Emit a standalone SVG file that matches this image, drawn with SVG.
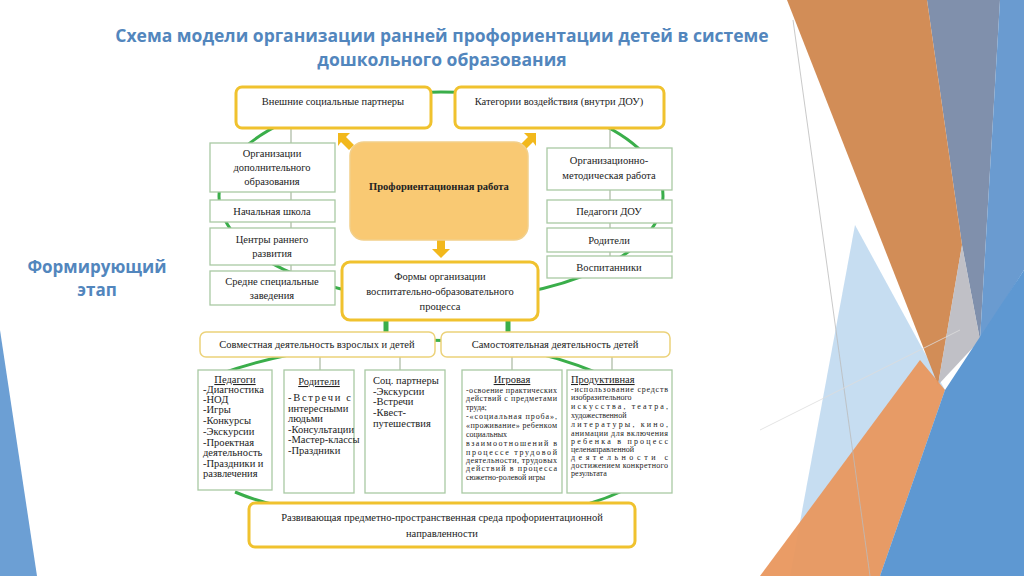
<svg xmlns="http://www.w3.org/2000/svg" width="1024" height="576" viewBox="0 0 1024 576">
<style>
.t{font-family:"Liberation Serif","DejaVu Serif",serif;fill:#222}
.s{font-size:10.5px}
.xs{font-size:8px}
.yb{fill:#fff;stroke:#f0c22e;stroke-width:3}
.yt{fill:#fff;stroke:#ecd27a;stroke-width:1.5}
.gb{fill:#fff;stroke:#a9c9a4;stroke-width:1.3}
.gl{fill:none;stroke:#3aae4a;stroke-width:3}
.vl{stroke:#a8b8a0;stroke-width:1.2}
.hd{font-family:"Open Sans",sans-serif;font-weight:bold;fill:#5286bd}
</style>
<rect width="1024" height="576" fill="#fff"/>
<g id="decor">
<polygon points="0,330 0,576 37,576" fill="#6c9fd4"/>
<polygon points="927,0 1000,0 980,340 962,245" fill="#8090ac"/>
<polygon points="1000,0 1024,0 1024,270 980,340" fill="#6a9bd0"/>
<polygon points="855,225 945,390 880,576 790,576" fill="#b8d4ee" opacity="0.8"/>
<polygon points="787,0 927,0 962,245 938,385" fill="#d0874e" opacity="0.95"/>
<polygon points="938,385 962,245 980,340" fill="#b0b0b8" opacity="0.8"/>
<polygon points="760,576 880,576 945,390 920,360" fill="#e9975e" opacity="0.95"/>
<polygon points="880,576 1024,576 1024,270 945,390" fill="#5e98d2"/>
<line x1="793" y1="20" x2="870" y2="576" stroke="#bbb" stroke-width="0.8"/>
<line x1="760" y1="430" x2="960" y2="330" stroke="#ddd" stroke-width="0.8"/>
</g>
<text class="hd" x="442" y="42" font-size="17.5" text-anchor="middle">Схема модели организации ранней профориентации детей в системе</text>
<text class="hd" x="442" y="66" font-size="17.5" text-anchor="middle">дошкольного образования</text>
<text class="hd" x="97" y="273" font-size="17" text-anchor="middle">Формирующий</text>
<text class="hd" x="97" y="296" font-size="17" text-anchor="middle">этап</text>
<g id="connectors">
<ellipse cx="441" cy="196" rx="222" ry="104" class="gl"/>
<line x1="291" y1="128" x2="291" y2="271" class="vl"/>
<line x1="610" y1="128" x2="610" y2="256" class="vl"/>
<line x1="386" y1="320" x2="386" y2="333" stroke="#3aae4a" stroke-width="5"/>
<line x1="508" y1="320" x2="508" y2="333" stroke="#3aae4a" stroke-width="5"/>
<path d="M220 374 Q300 345 420 340 Q520 340 600 374" class="gl"/>
<path d="M235 492 Q300 520 440 520 Q560 520 620 492" class="gl"/>
<line x1="320" y1="357" x2="320" y2="370" class="vl"/>
<line x1="400" y1="357" x2="400" y2="370" class="vl"/>
<line x1="512" y1="357" x2="512" y2="370" class="vl"/>
<line x1="612" y1="357" x2="612" y2="370" class="vl"/>
<g fill="#f2b81c">
<polygon points="338,133 350,133 346,137 354,145 349,150 341,142 338,146"/>
<polygon points="536,133 524,133 528,137 520,145 525,150 533,142 536,146"/>
<polygon points="437,240 445,240 445,249 450,249 441,258 432,249 437,249"/>
</g>
</g>
<g font-family="Liberation Serif, DejaVu Serif, serif">
<g id="n-vnesh"><rect x="236" y="87" width="195" height="41" rx="6" class="yb"/><text class="t s" x="333" y="105" text-anchor="middle">Внешние социальные партнеры</text></g>
<g id="n-kat"><rect x="455" y="87" width="209" height="41" rx="6" class="yb"/><text class="t s" x="559" y="105" text-anchor="middle">Категории воздействия (внутри ДОУ)</text></g>
<g id="n-prof"><rect x="350" y="142" width="178" height="98" rx="14" fill="#f9c973" stroke="#f2cf8a" stroke-width="1.5"/><text class="t s" x="439" y="190" text-anchor="middle" font-weight="bold">Профориентационная работа</text></g>
<g id="n-odo"><rect x="210" y="143" width="125" height="49" class="gb"/><text class="t s" text-anchor="middle"><tspan x="272" y="157">Организации</tspan><tspan x="272" y="171">дополнительного</tspan><tspan x="272" y="185">образования</tspan></text></g>
<g id="n-nsh"><rect x="210" y="200" width="125" height="22" class="gb"/><text class="t s" x="272" y="215" text-anchor="middle">Начальная школа</text></g>
<g id="n-crr"><rect x="210" y="228" width="125" height="37" class="gb"/><text class="t s" text-anchor="middle"><tspan x="272" y="243">Центры раннего</tspan><tspan x="272" y="257">развития</tspan></text></g>
<g id="n-sse"><rect x="210" y="271" width="125" height="34" class="gb"/><text class="t s" text-anchor="middle"><tspan x="272" y="285">Средне специальные</tspan><tspan x="272" y="299">заведения</tspan></text></g>
<g id="n-omr"><rect x="547" y="148" width="125" height="42" class="gb"/><text class="t s" text-anchor="middle"><tspan x="609" y="164">Организационно-</tspan><tspan x="609" y="179">методическая работа</tspan></text></g>
<g id="n-pdou"><rect x="547" y="200" width="125" height="23" class="gb"/><text class="t s" x="609" y="215" text-anchor="middle">Педагоги ДОУ</text></g>
<g id="n-rod"><rect x="547" y="228" width="125" height="24" class="gb"/><text class="t s" x="609" y="244" text-anchor="middle">Родители</text></g>
<g id="n-vosp"><rect x="547" y="256" width="125" height="22" class="gb"/><text class="t s" x="609" y="271" text-anchor="middle">Воспитанники</text></g>
<g id="n-formy"><rect x="342" y="262" width="196" height="58" rx="8" class="yb"/><text class="t s" text-anchor="middle"><tspan x="440" y="280">Формы организации</tspan><tspan x="440" y="295">воспитательно-образовательного</tspan><tspan x="440" y="310">процесса</tspan></text></g>
<g id="n-sovm"><rect x="200" y="332" width="235" height="25" rx="6" class="yt"/><text class="t s" x="317" y="348" text-anchor="middle">Совместная деятельность взрослых и детей</text></g>
<g id="n-sam"><rect x="441" y="332" width="229" height="25" rx="6" class="yt"/><text class="t s" x="555" y="348" text-anchor="middle">Самостоятельная деятельность детей</text></g>
<g id="n-ped"><rect x="198" y="370" width="74" height="120" class="gb"/><text class="t s" x="235" y="383" text-anchor="middle" text-decoration="underline">Педагоги</text><text class="t s"><tspan x="203" y="393">-Диагностика</tspan><tspan x="203" y="403">-НОД</tspan><tspan x="203" y="413">-Игры</tspan><tspan x="203" y="424">-Конкурсы</tspan><tspan x="203" y="435">-Экскурсии</tspan><tspan x="203" y="446">-Проектная</tspan><tspan x="203" y="456">деятельность</tspan><tspan x="203" y="467">-Праздники и</tspan><tspan x="203" y="477">развлечения</tspan></text></g>
<g id="n-rodit"><rect x="284" y="370" width="70" height="123" class="gb"/><text class="t s" x="319" y="385" text-anchor="middle" text-decoration="underline">Родители</text><text class="t s"><tspan x="288" y="401" textLength="63" lengthAdjust="spacing">-Встречи с</tspan><tspan x="288" y="412">интересными</tspan><tspan x="288" y="422">людьми</tspan><tspan x="288" y="433">-Консультации</tspan><tspan x="288" y="443">-Мастер-классы</tspan><tspan x="288" y="454">-Праздники</tspan></text></g>
<g id="n-soc"><rect x="365" y="370" width="80" height="123" class="gb"/><text class="t s" x="373" y="384">Соц. партнеры</text><text class="t s"><tspan x="373" y="395">-Экскурсии</tspan><tspan x="373" y="405">-Встречи</tspan><tspan x="373" y="416">-Квест-</tspan><tspan x="373" y="427">путешествия</tspan></text></g>
<g id="n-igr"><rect x="462" y="370" width="100" height="123" class="gb"/><text class="t s" x="512" y="383" text-anchor="middle" text-decoration="underline">Игровая</text><text class="t xs"><tspan x="466" y="393" textLength="91" lengthAdjust="spacing">-освоение практических</tspan><tspan x="466" y="401" textLength="91" lengthAdjust="spacing">действий с предметами</tspan><tspan x="466" y="410">труда;</tspan><tspan x="466" y="419" textLength="91" lengthAdjust="spacing">-«социальная проба»,</tspan><tspan x="466" y="428" textLength="91" lengthAdjust="spacing">«проживание» ребенком</tspan><tspan x="466" y="437">социальных</tspan><tspan x="466" y="446" textLength="91" lengthAdjust="spacing">взаимоотношений в</tspan><tspan x="466" y="455" textLength="91" lengthAdjust="spacing">процессе трудовой</tspan><tspan x="466" y="463" textLength="91" lengthAdjust="spacing">деятельности, трудовых</tspan><tspan x="466" y="471" textLength="91" lengthAdjust="spacing">действий в процесса</tspan><tspan x="466" y="480">сюжетно-ролевой игры</tspan></text></g>
<g id="n-prod"><rect x="567" y="370" width="105" height="123" class="gb"/><text class="t s" x="571" y="383" text-decoration="underline">Продуктивная</text><text class="t xs"><tspan x="571" y="392" textLength="97" lengthAdjust="spacing">-использование средств</tspan><tspan x="571" y="400">изобразительного</tspan><tspan x="571" y="409" textLength="97" lengthAdjust="spacing">искусства, театра,</tspan><tspan x="571" y="418">художественной</tspan><tspan x="571" y="427" textLength="97" lengthAdjust="spacing">литературы, кино,</tspan><tspan x="571" y="436" textLength="97" lengthAdjust="spacing">анимации для включения</tspan><tspan x="571" y="444" textLength="97" lengthAdjust="spacing">ребенка в процесс</tspan><tspan x="571" y="452">целенаправленной</tspan><tspan x="571" y="460" textLength="97" lengthAdjust="spacing">деятельности с</tspan><tspan x="571" y="468" textLength="97" lengthAdjust="spacing">достижением конкретного</tspan><tspan x="571" y="476">результата</tspan></text></g>
<g id="n-rpps"><rect x="249" y="503" width="386" height="44" rx="6" class="yb"/><text class="t s" text-anchor="middle"><tspan x="442" y="521">Развивающая предметно-пространственная среда профориентационной</tspan><tspan x="442" y="537">направленности</tspan></text></g>
</g>
</svg>
